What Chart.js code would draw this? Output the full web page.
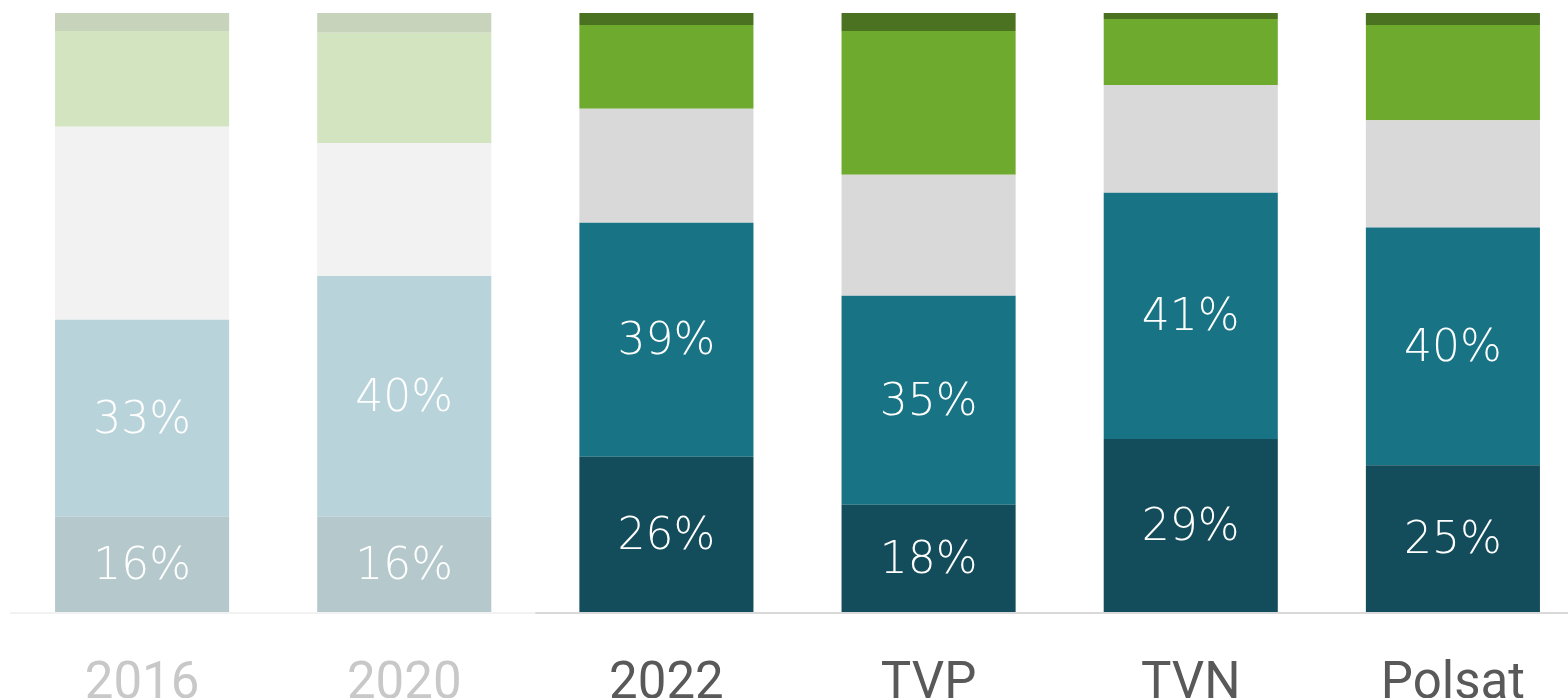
<!DOCTYPE html>
<html>
<head>
<meta charset="utf-8">
<script src="https://cdn.jsdelivr.net/npm/chart.js@4"></script>
<style>
  html, body { margin: 0; padding: 0; background: #fff; overflow: hidden; }
  #wrap { width: 1584px; height: 740px; }
</style>
</head>
<body>
<div id="wrap"><canvas id="chart"></canvas></div>
<script>
// categories and shares (%), bottom segment first
const categories = ['2016', '2020', '2022', 'TVP', 'TVN', 'Polsat'];
const share1 = [15.9, 15.9, 25.9, 17.9, 28.9, 24.5];
const share2 = [32.9, 40.2, 39.1, 34.9, 41.1, 39.7];
const share3 = [32.2, 22.2, 19.0, 20.2, 18.0, 17.9];
const share4 = [16.0, 18.4, 14.0, 24.0, 11.0, 15.9];
const share5 = [3.0, 3.3, 2.0, 3.0, 1.0, 2.0];
const fadedCount = 2; // first two categories are drawn faded

const palette = {
  faded: ['#b5c9cd', '#b9d3da', '#f2f2f2', '#d3e4c0', '#c8d3bb'],
  strong: ['#134c5a', '#187385', '#d9d9d9', '#6eaa2e', '#4a7220']
};

function colorsFor(level) {
  return categories.map((c, i) => i < fadedCount ? palette.faded[level] : palette.strong[level]);
}

// white percentage labels on the two bottom segments
const valueLabels = {
  id: 'valueLabels',
  afterDatasetsDraw(chart) {
    const ctx = chart.ctx;
    ctx.save();
    ctx.fillStyle = '#ffffff';
    ctx.font = '200 44px "DejaVu Sans"';
    ctx.textAlign = 'center';
    ctx.textBaseline = 'middle';
    [0, 1].forEach(di => {
      const meta = chart.getDatasetMeta(di);
      meta.data.forEach((bar, i) => {
        const v = chart.data.datasets[di].data[i];
        const yMid = (bar.y + bar.base) / 2;
        ctx.fillText(Math.round(v) + '%', bar.x, yMid + 3);
      });
    });
    ctx.restore();
  }
};

// base line, lighter under the faded years
const baseLine = {
  id: 'baseLine',
  beforeDatasetsDraw(chart) {
    const ctx = chart.ctx;
    const x = chart.scales.x;
    const y = chart.scales.y.getPixelForValue(0) + 1;
    const split = (x.getPixelForValue(fadedCount - 1) + x.getPixelForValue(fadedCount)) / 2;
    ctx.save();
    ctx.lineWidth = 2;
    ctx.strokeStyle = '#f2f2f2';
    ctx.beginPath();
    ctx.moveTo(10, y);
    ctx.lineTo(split, y);
    ctx.stroke();
    ctx.strokeStyle = '#d9d9d9';
    ctx.beginPath();
    ctx.moveTo(split, y);
    ctx.lineTo(chart.width, y);
    ctx.stroke();
    ctx.restore();
  }
};

const series = [share1, share2, share3, share4, share5];

new Chart(document.getElementById('chart'), {
  type: 'bar',
  data: {
    labels: categories,
    datasets: series.map((d, level) => ({
      data: d,
      backgroundColor: colorsFor(level),
      borderWidth: 0,
      categoryPercentage: 1,
      barPercentage: 0.664
    }))
  },
  options: {
    responsive: true,
    maintainAspectRatio: false,
    animation: false,
    layout: { padding: { top: 13, left: 11, right: 0, bottom: 0 } },
    plugins: {
      legend: { display: false },
      tooltip: { enabled: false }
    },
    scales: {
      x: {
        stacked: true,
        grid: { display: false, drawTicks: false },
        border: { display: false },
        afterFit(scale) { scale.height = 128; },
        ticks: {
          padding: 43,
          font: { family: 'Roboto', size: 51 },
          color: (c) => c.index < fadedCount ? '#c8c8c8' : '#595959'
        }
      },
      y: {
        stacked: true,
        display: false,
        min: 0,
        max: 100
      }
    }
  },
  plugins: [baseLine, valueLabels]
});
</script>
</body>
</html>
